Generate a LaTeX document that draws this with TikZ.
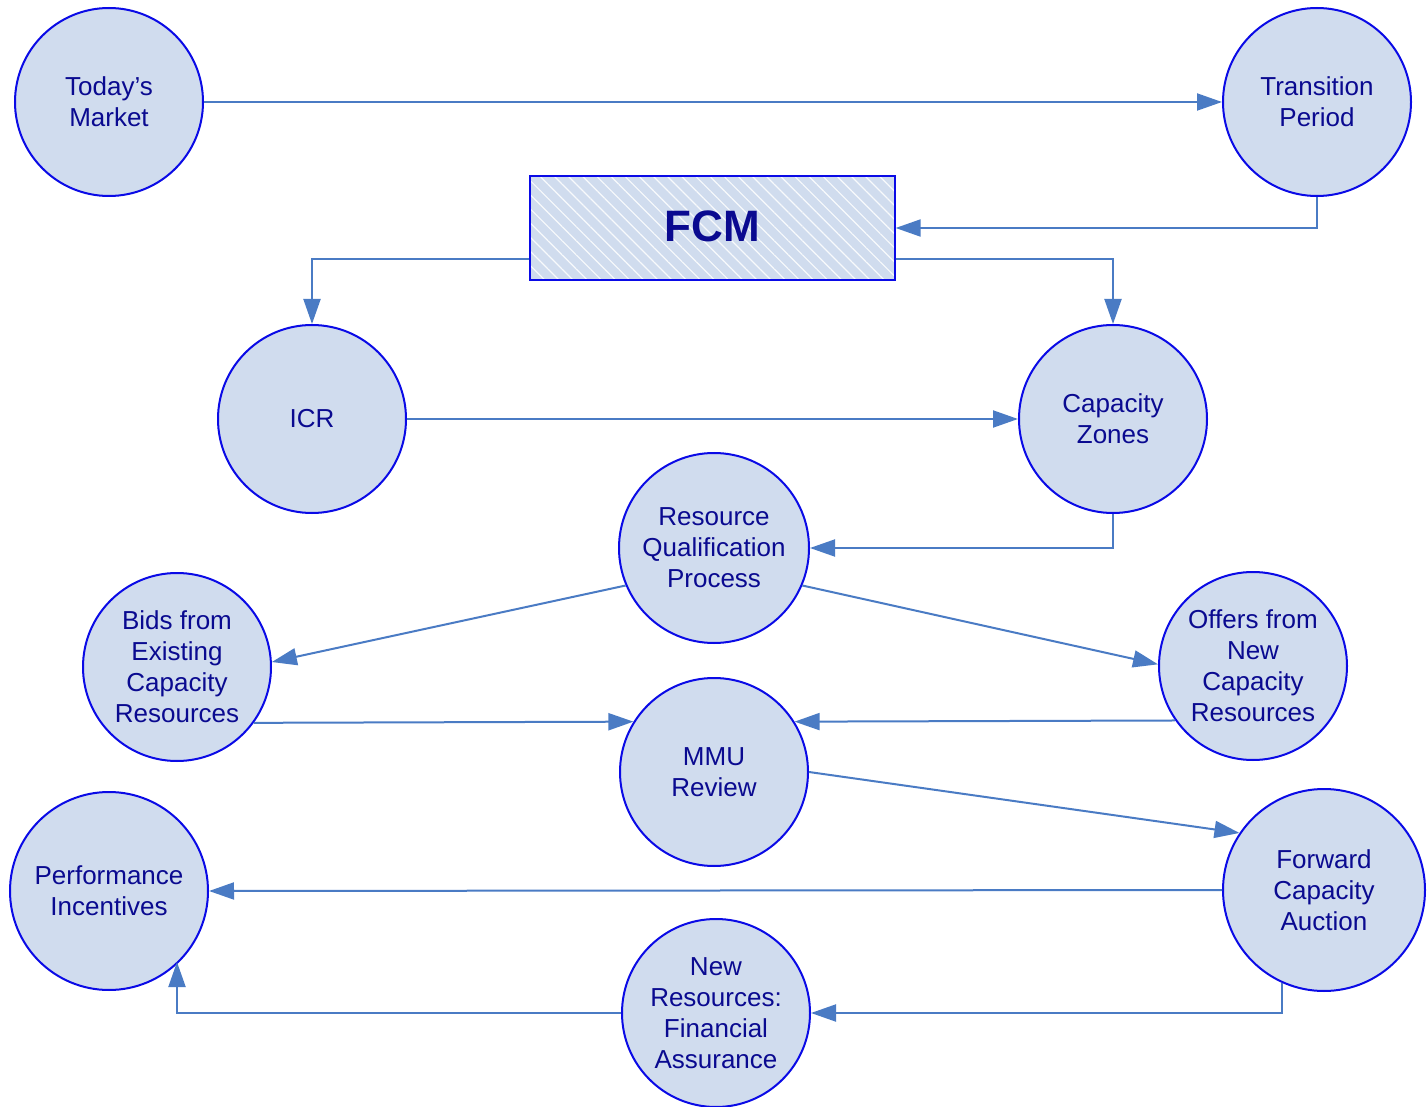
\documentclass[tikz,border=0pt]{standalone}
\usepackage{fontspec}
\setmainfont{Liberation Sans}
\usetikzlibrary{arrows.meta,patterns.meta}
\definecolor{cfill}{HTML}{D0DCEE}
\definecolor{cborder}{HTML}{0A0AE6}
\definecolor{ctext}{HTML}{0A0A90}
\definecolor{cline}{HTML}{4A7BC4}
\begin{document}
\begin{tikzpicture}[x=1pt,y=-1pt,
  circ/.style={circle,draw=cborder,fill=cfill,line width=2pt,minimum size=#1,inner sep=0pt,
    text=ctext,align=center,font=\fontsize{26}{31}\selectfont},
  circ/.default=188pt,
  conn/.style={draw=cline,line width=2pt,-{Triangle[length=25pt,width=17pt]}},
]
\useasboundingbox (0,0) rectangle (1428,1107);
\node[circ] (tm) at (109,102) {Today’s\\Market};
\node[circ] (tp) at (1317,102) {Transition\\Period};
\node[draw=cborder,line width=2pt,minimum width=365pt,minimum height=104pt,
  preaction={fill=cfill},pattern={Lines[angle=-45,distance=10pt,line width=1.2pt]},pattern color=white!85!cfill,
  text=ctext] (fcm) at (712.5,228) {};
\node[text=ctext,font=\fontsize{44}{50}\selectfont\bfseries] (fcmt) at (712.5,226) {FCM};
\node[circ] (icr) at (312,419) {ICR};
\node[circ] (cz) at (1113,419) {Capacity\\Zones};
\node[circ=190pt] (rqp) at (714,548) {Resource\\Qualification\\Process};
\node[circ] (bids) at (177,667) {Bids from\\Existing\\Capacity\\Resources};
\node[circ] (offers) at (1253,666) {Offers from\\New\\Capacity\\Resources};
\node[circ] (mmu) at (714,772) {MMU\\Review};
\node[circ=198pt] (pi) at (109,891) {Performance\\Incentives};
\node[circ=202pt] (fca) at (1324,890) {Forward\\Capacity\\Auction};
\node[circ] (nr) at (716,1013) {New\\Resources:\\Financial\\Assurance};

\draw[conn] (tm.east) -- (tp.west);
\draw[conn] (tp.south) |- (fcm.east);
\coordinate (fl) at ([yshift=-31pt]fcm.west);
\coordinate (fr) at ([yshift=-31pt]fcm.east);
\draw[conn] (fl) -| (icr.north);
\draw[conn] (fr) -| (cz.north);
\draw[conn] (icr.east) -- (cz.west);
\draw[conn] (cz.south) |- (rqp.east);
\draw[conn] (rqp.-157) -- (bids.3);
\draw[conn] (rqp.-23) -- (offers.179);
\draw[conn] (bids.-36) -- (mmu.148);
\draw[conn] (offers.-145) -- (mmu.32);
\draw[conn] (mmu.east) -- (fca.146);
\draw[conn] (fca.west) -- (pi.east);
\coordinate (fcab) at (1282,983);
\draw[conn] (fcab) |- (nr.east);
\coordinate (pib) at (177,962);
\draw[conn] (nr.west) -| (pib);
\end{tikzpicture}
\end{document}
